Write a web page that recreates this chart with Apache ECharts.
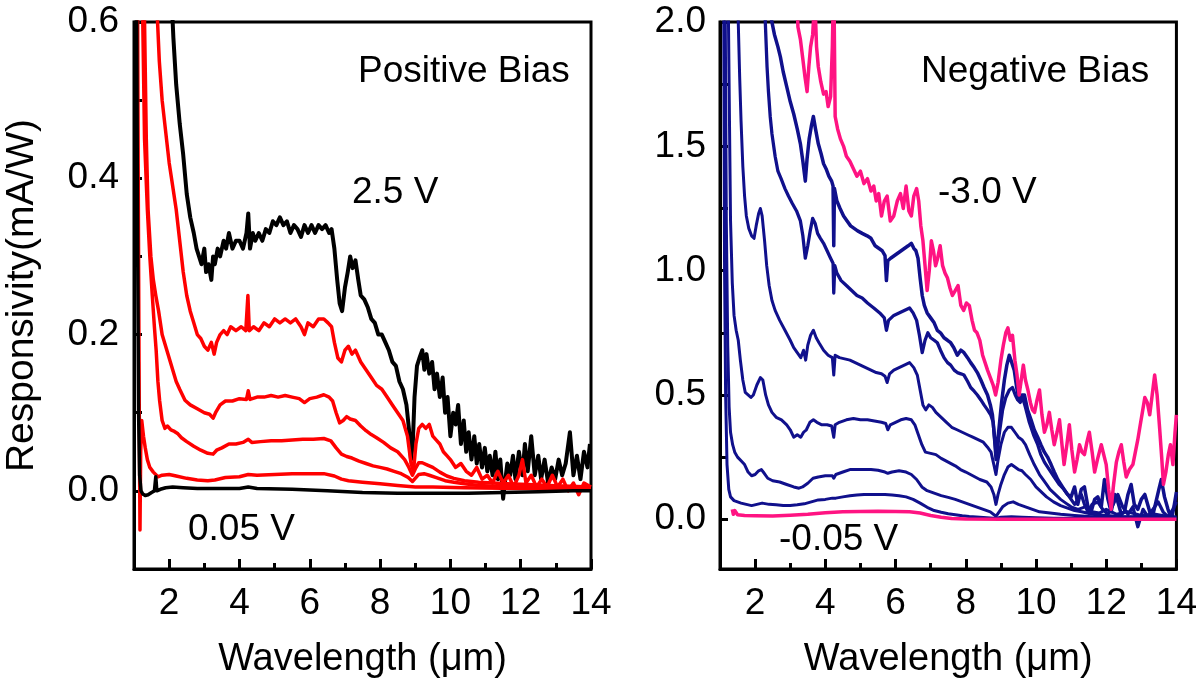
<!DOCTYPE html>
<html>
<head>
<meta charset="utf-8">
<script src="https://cdn.jsdelivr.net/npm/echarts@6.0.0/dist/echarts.min.js"></script>
<style>html,body{margin:0;padding:0;background:#fff;}#chart{width:1200px;height:687px;}</style>
</head>
<body>
<div id="chart"></div>
<script>
// ---------- tick values ----------
const xMajorTicks = [2, 4, 6, 8, 10, 12, 14];
const xMinorTicks = [3, 5, 7, 9, 11, 13];
const yLeftLabels = [0, 0.2, 0.4, 0.6];
const yLeftTicks = [0, 0.1, 0.2, 0.3, 0.4, 0.5, 0.6];
const yRightLabels = [0, 0.5, 1.0, 1.5, 2.0];
const yRightTicks = [0, 0.25, 0.5, 0.75, 1.0, 1.25, 1.5, 1.75, 2.0];

// ---------- left panel: positive bias ----------
const pos_2p5V = [[1.9,0.9],[2.05,0.65],[2.12,0.58],[2.2,0.52],[2.3,0.47],[2.4,0.43],[2.5,0.38],[2.6,0.35],[2.7,0.33],[2.78,0.31],[2.85,0.3],[2.92,0.29],[3.0,0.31],[3.05,0.28],[3.12,0.29],[3.2,0.27],[3.25,0.3],[3.3,0.29],[3.38,0.31],[3.45,0.3],[3.55,0.32],[3.62,0.31],[3.7,0.33],[3.8,0.31],[3.9,0.32],[4.0,0.32],[4.1,0.31],[4.2,0.33],[4.25,0.355],[4.3,0.31],[4.38,0.33],[4.45,0.32],[4.55,0.33],[4.65,0.32],[4.75,0.335],[4.85,0.33],[4.95,0.345],[5.05,0.34],[5.15,0.35],[5.25,0.34],[5.35,0.345],[5.45,0.33],[5.55,0.34],[5.65,0.335],[5.75,0.325],[5.85,0.34],[5.95,0.33],[6.05,0.34],[6.15,0.33],[6.25,0.34],[6.35,0.335],[6.45,0.34],[6.55,0.33],[6.62,0.335],[6.7,0.31],[6.78,0.27],[6.85,0.24],[6.92,0.23],[7.0,0.26],[7.08,0.28],[7.15,0.3],[7.22,0.285],[7.3,0.295],[7.38,0.27],[7.45,0.25],[7.55,0.245],[7.65,0.235],[7.75,0.22],[7.85,0.215],[7.95,0.2],[8.05,0.2],[8.15,0.19],[8.25,0.18],[8.35,0.165],[8.45,0.16],[8.55,0.14],[8.65,0.13],[8.75,0.11],[8.82,0.08],[8.88,0.04],[8.93,0.06],[8.98,0.12],[9.05,0.16],[9.12,0.17],[9.2,0.18],[9.26,0.155],[9.32,0.175],[9.4,0.15],[9.48,0.165],[9.55,0.13],[9.62,0.15],[9.7,0.12],[9.78,0.145],[9.85,0.1],[9.92,0.12],[10.0,0.07],[10.08,0.1],[10.15,0.085],[10.22,0.11],[10.3,0.06],[10.38,0.09],[10.45,0.05],[10.52,0.075],[10.6,0.04],[10.68,0.07],[10.75,0.035],[10.82,0.06],[10.9,0.03],[10.98,0.055],[11.05,0.025],[11.12,0.045],[11.2,0.02],[11.28,0.05],[11.35,0.015],[11.42,0.04],[11.5,-0.01],[11.55,0.01],[11.62,0.035],[11.7,0.02],[11.78,0.045],[11.85,0.015],[11.95,0.05],[12.05,0.02],[12.12,0.06],[12.2,0.025],[12.3,0.07],[12.4,0.02],[12.5,0.045],[12.58,0.015],[12.68,0.04],[12.78,0.01],[12.88,0.03],[12.98,0.015],[13.08,0.04],[13.18,0.02],[13.28,0.035],[13.4,0.075],[13.5,0.02],[13.6,0.045],[13.7,0.015],[13.8,0.05],[13.9,0.03],[13.97,0.06]];
const pos_red1 = [[1.58,0.9],[1.65,0.62],[1.72,0.55],[1.8,0.5],[1.9,0.46],[2.0,0.42],[2.1,0.39],[2.2,0.36],[2.3,0.32],[2.4,0.28],[2.5,0.25],[2.6,0.23],[2.7,0.215],[2.8,0.2],[2.9,0.195],[3.0,0.185],[3.1,0.18],[3.2,0.19],[3.28,0.175],[3.35,0.19],[3.45,0.2],[3.55,0.205],[3.65,0.2],[3.75,0.21],[3.9,0.205],[4.05,0.21],[4.18,0.205],[4.24,0.25],[4.28,0.205],[4.4,0.21],[4.55,0.205],[4.7,0.215],[4.85,0.21],[5.0,0.22],[5.15,0.215],[5.3,0.22],[5.45,0.215],[5.6,0.22],[5.75,0.21],[5.85,0.2],[5.95,0.215],[6.1,0.21],[6.25,0.22],[6.4,0.22],[6.52,0.215],[6.62,0.21],[6.7,0.19],[6.8,0.17],[6.9,0.165],[7.0,0.18],[7.1,0.185],[7.2,0.175],[7.3,0.18],[7.45,0.165],[7.6,0.155],[7.75,0.145],[7.9,0.135],[8.05,0.13],[8.2,0.12],[8.35,0.11],[8.5,0.1],[8.65,0.09],[8.78,0.07],[8.88,0.035],[8.95,0.025],[9.02,0.06],[9.1,0.08],[9.2,0.085],[9.3,0.08],[9.4,0.085],[9.5,0.07],[9.6,0.065],[9.7,0.06],[9.8,0.05],[9.9,0.045],[10.0,0.04],[10.15,0.03],[10.3,0.035],[10.45,0.025],[10.6,0.02],[10.75,0.03],[10.9,0.015],[11.05,0.02],[11.2,0.01],[11.35,0.025],[11.5,0.01],[11.65,0.02],[11.8,0.005],[11.95,0.02],[12.05,0.04],[12.15,0.01],[12.3,0.02],[12.45,0.005],[12.6,0.015],[12.75,0.005],[12.9,0.02],[13.05,0.005],[13.2,0.015],[13.35,0.0],[13.5,0.01],[13.65,-0.005],[13.8,0.01],[14.0,0.005]];
const pos_red2 = [[1.25,0.9],[1.3,0.6],[1.35,0.45],[1.4,0.36],[1.48,0.3],[1.55,0.27],[1.62,0.25],[1.7,0.23],[1.8,0.2],[1.9,0.185],[2.0,0.17],[2.1,0.155],[2.2,0.14],[2.3,0.13],[2.45,0.116],[2.6,0.11],[2.8,0.105],[3.0,0.1],[3.15,0.098],[3.25,0.093],[3.32,0.1],[3.45,0.11],[3.6,0.115],[3.8,0.115],[4.0,0.118],[4.2,0.117],[4.25,0.128],[4.3,0.117],[4.5,0.12],[4.7,0.12],[4.9,0.122],[5.1,0.12],[5.3,0.122],[5.5,0.12],[5.7,0.118],[5.85,0.113],[6.0,0.118],[6.2,0.12],[6.4,0.123],[6.55,0.12],[6.65,0.115],[6.75,0.1],[6.85,0.087],[6.95,0.09],[7.05,0.095],[7.15,0.092],[7.3,0.09],[7.45,0.083],[7.6,0.077],[7.75,0.072],[7.9,0.068],[8.1,0.062],[8.3,0.055],[8.5,0.05],[8.7,0.04],[8.82,0.03],[8.92,0.02],[9.0,0.028],[9.1,0.036],[9.2,0.036],[9.35,0.033],[9.5,0.03],[9.7,0.024],[9.9,0.019],[10.1,0.016],[10.4,0.013],[10.8,0.011],[11.2,0.01],[11.6,0.009],[12.2,0.008],[12.8,0.007],[13.4,0.006],[14.0,0.005]];
const pos_red3 = [[1.2,0.9],[1.25,0.6],[1.3,0.45],[1.38,0.36],[1.45,0.3],[1.52,0.25],[1.58,0.21],[1.63,0.18],[1.68,0.14],[1.73,0.115],[1.8,0.09],[1.88,0.08],[1.95,0.083],[2.05,0.078],[2.15,0.076],[2.25,0.073],[2.35,0.068],[2.5,0.063],[2.7,0.057],[2.9,0.052],[3.1,0.048],[3.25,0.047],[3.35,0.052],[3.5,0.055],[3.7,0.06],[3.9,0.06],[4.1,0.062],[4.25,0.066],[4.35,0.062],[4.6,0.063],[4.9,0.064],[5.2,0.064],[5.5,0.065],[5.8,0.066],[6.1,0.066],[6.4,0.067],[6.6,0.064],[6.75,0.055],[6.9,0.047],[7.05,0.044],[7.2,0.042],[7.4,0.038],[7.6,0.035],[7.8,0.032],[8.0,0.03],[8.2,0.028],[8.4,0.025],[8.6,0.022],[8.8,0.017],[8.92,0.012],[9.0,0.016],[9.1,0.021],[9.25,0.022],[9.4,0.02],[9.6,0.017],[9.85,0.013],[10.1,0.011],[10.4,0.009],[10.8,0.007],[11.3,0.006],[12.0,0.005],[13.0,0.004],[14.0,0.004]];
const pos_red4 = [[1.08,0.9],[1.12,0.4],[1.15,0.1],[1.17,-0.05],[1.19,0.05],[1.22,0.09],[1.27,0.07],[1.32,0.055],[1.38,0.04],[1.45,0.03],[1.55,0.024],[1.68,0.018],[1.8,0.02],[2.0,0.021],[2.2,0.019],[2.5,0.016],[2.8,0.014],[3.1,0.013],[3.3,0.014],[3.6,0.017],[4.0,0.018],[4.25,0.021],[4.5,0.02],[5.0,0.021],[5.5,0.022],[6.0,0.022],[6.4,0.022],[6.7,0.019],[6.9,0.015],[7.1,0.013],[7.5,0.011],[8.0,0.009],[8.5,0.007],[9.0,0.005],[9.5,0.005],[10.4,0.004],[12.0,0.003],[14.0,0.003]];
const pos_0p05V = [[1.05,0.9],[1.1,0.35],[1.13,0.1],[1.16,0.02],[1.2,0.0],[1.25,-0.004],[1.32,-0.006],[1.4,-0.005],[1.5,-0.002],[1.58,0.0],[1.62,0.018],[1.65,0.0],[1.75,0.002],[1.9,0.004],[2.1,0.005],[2.4,0.004],[2.8,0.003],[3.3,0.003],[4.0,0.003],[4.25,0.005],[4.5,0.003],[5.5,0.002],[6.5,0.0],[7.5,-0.002],[8.5,-0.003],[9.5,-0.003],[10.5,-0.003],[11.5,-0.002],[12.5,-0.001],[13.5,0.0],[14.0,0.0]];

// ---------- right panel: negative bias ----------
const neg_3p0V = [[3.15,2.3],[3.22,1.98],[3.29,1.93],[3.36,1.85],[3.42,1.78],[3.48,1.72],[3.53,1.82],[3.58,1.9],[3.64,1.95],[3.7,2.1],[3.75,1.9],[3.8,1.82],[3.87,1.76],[3.95,1.71],[4.02,1.72],[4.08,1.66],[4.15,1.7],[4.2,1.9],[4.24,2.2],[4.28,1.62],[4.35,1.57],[4.43,1.53],[4.52,1.5],[4.6,1.46],[4.7,1.44],[4.8,1.41],[4.9,1.38],[5.0,1.4],[5.1,1.35],[5.2,1.37],[5.3,1.32],[5.38,1.34],[5.45,1.28],[5.52,1.31],[5.6,1.22],[5.68,1.28],[5.76,1.3],[5.85,1.2],[5.95,1.22],[6.05,1.28],[6.14,1.31],[6.22,1.25],[6.3,1.34],[6.38,1.24],[6.45,1.22],[6.52,1.3],[6.6,1.33],[6.66,1.28],[6.72,1.18],[6.78,1.12],[6.84,1.02],[6.9,0.92],[6.96,1.0],[7.02,1.12],[7.08,1.08],[7.14,1.02],[7.2,1.05],[7.27,1.1],[7.34,1.02],[7.41,0.99],[7.48,0.97],[7.55,0.93],[7.62,0.9],[7.7,0.92],[7.78,0.94],[7.86,0.86],[7.94,0.84],[8.02,0.87],[8.1,0.86],[8.18,0.8],[8.25,0.76],[8.32,0.75],[8.4,0.72],[8.48,0.66],[8.55,0.63],[8.62,0.6],[8.7,0.57],[8.78,0.54],[8.85,0.5],[8.92,0.55],[9.0,0.64],[9.07,0.7],[9.14,0.75],[9.2,0.77],[9.27,0.72],[9.33,0.74],[9.4,0.64],[9.46,0.58],[9.52,0.5],[9.58,0.56],[9.64,0.62],[9.7,0.56],[9.77,0.52],[9.84,0.47],[9.9,0.44],[9.96,0.43],[10.03,0.48],[10.1,0.52],[10.17,0.42],[10.24,0.35],[10.31,0.38],[10.38,0.43],[10.45,0.36],[10.52,0.3],[10.6,0.35],[10.67,0.4],[10.74,0.3],[10.8,0.22],[10.88,0.3],[10.95,0.38],[11.02,0.28],[11.1,0.19],[11.17,0.24],[11.24,0.3],[11.31,0.27],[11.38,0.26],[11.45,0.31],[11.52,0.35],[11.6,0.27],[11.67,0.19],[11.75,0.24],[11.86,0.3],[11.93,0.26],[12.0,0.22],[12.07,0.12],[12.14,0.04],[12.21,0.14],[12.29,0.23],[12.36,0.27],[12.43,0.3],[12.5,0.23],[12.57,0.17],[12.66,0.2],[12.76,0.22],[12.83,0.27],[12.9,0.32],[12.97,0.38],[13.03,0.43],[13.1,0.49],[13.17,0.47],[13.24,0.42],[13.31,0.5],[13.38,0.58],[13.45,0.5],[13.52,0.37],[13.58,0.25],[13.63,0.14],[13.7,0.19],[13.77,0.26],[13.83,0.3],[13.9,0.22],[13.96,0.35],[14.0,0.42]];
const neg_blue1 = [[2.3,2.3],[2.45,2.02],[2.55,1.95],[2.65,1.9],[2.72,1.86],[2.8,1.8],[2.9,1.74],[3.0,1.68],[3.1,1.63],[3.2,1.57],[3.29,1.51],[3.36,1.44],[3.43,1.36],[3.48,1.45],[3.54,1.53],[3.6,1.58],[3.66,1.62],[3.72,1.57],[3.8,1.51],[3.88,1.47],[3.95,1.43],[4.02,1.41],[4.1,1.38],[4.18,1.36],[4.22,1.34],[4.24,1.1],[4.26,1.33],[4.33,1.28],[4.42,1.25],[4.52,1.22],[4.62,1.2],[4.72,1.18],[4.82,1.17],[4.92,1.16],[5.05,1.15],[5.19,1.14],[5.3,1.13],[5.42,1.1],[5.52,1.09],[5.62,1.08],[5.7,1.06],[5.74,0.96],[5.78,1.04],[5.86,1.05],[5.96,1.06],[6.06,1.07],[6.16,1.08],[6.26,1.09],[6.36,1.1],[6.45,1.11],[6.52,1.09],[6.58,1.08],[6.64,1.05],[6.7,0.97],[6.76,0.9],[6.82,0.86],[6.9,0.83],[7.0,0.81],[7.1,0.79],[7.19,0.76],[7.28,0.75],[7.38,0.73],[7.48,0.72],[7.57,0.71],[7.66,0.69],[7.76,0.66],[7.86,0.68],[7.95,0.67],[8.05,0.65],[8.14,0.63],[8.24,0.61],[8.33,0.59],[8.43,0.56],[8.52,0.53],[8.62,0.5],[8.7,0.46],[8.76,0.42],[8.82,0.33],[8.86,0.27],[8.9,0.3],[8.95,0.37],[9.02,0.47],[9.1,0.56],[9.17,0.62],[9.24,0.66],[9.31,0.63],[9.38,0.6],[9.45,0.53],[9.52,0.48],[9.6,0.5],[9.67,0.5],[9.76,0.44],[9.86,0.4],[9.95,0.36],[10.05,0.33],[10.14,0.3],[10.24,0.27],[10.33,0.25],[10.43,0.22],[10.52,0.19],[10.62,0.16],[10.71,0.14],[10.8,0.12],[10.9,0.1],[11.0,0.09],[11.1,0.13],[11.19,0.06],[11.29,0.12],[11.38,0.13],[11.48,0.05],[11.57,0.03],[11.67,0.08],[11.76,0.09],[11.86,0.05],[11.95,0.16],[12.05,0.08],[12.14,0.03],[12.24,0.1],[12.33,0.07],[12.43,0.02],[12.52,0.03],[12.62,0.1],[12.71,0.14],[12.8,0.06],[12.9,0.04],[13.0,0.08],[13.1,0.1],[13.2,0.05],[13.3,0.0],[13.4,0.06],[13.5,0.12],[13.57,0.16],[13.66,0.09],[13.76,0.04],[13.86,0.0],[13.93,0.05],[14.0,0.11]];
const neg_blue2 = [[2.22,2.3],[2.29,2.0],[2.34,1.82],[2.38,1.72],[2.43,1.62],[2.48,1.55],[2.57,1.46],[2.65,1.4],[2.74,1.37],[2.85,1.33],[2.95,1.3],[3.06,1.27],[3.18,1.24],[3.29,1.2],[3.36,1.14],[3.43,1.05],[3.5,1.1],[3.57,1.16],[3.64,1.21],[3.71,1.19],[3.78,1.15],[3.86,1.13],[3.95,1.11],[4.05,1.08],[4.15,1.05],[4.22,1.03],[4.24,0.91],[4.27,1.02],[4.33,0.99],[4.45,0.96],[4.6,0.94],[4.75,0.92],[4.9,0.9],[5.05,0.89],[5.2,0.87],[5.38,0.85],[5.55,0.83],[5.68,0.81],[5.74,0.76],[5.8,0.8],[5.95,0.82],[6.1,0.83],[6.25,0.84],[6.4,0.85],[6.5,0.83],[6.6,0.8],[6.68,0.74],[6.76,0.67],[6.84,0.72],[6.92,0.75],[7.0,0.73],[7.1,0.72],[7.19,0.71],[7.28,0.68],[7.38,0.65],[7.48,0.63],[7.57,0.62],[7.67,0.6],[7.76,0.59],[7.86,0.585],[7.95,0.58],[8.05,0.555],[8.14,0.53],[8.24,0.515],[8.33,0.5],[8.43,0.48],[8.52,0.46],[8.62,0.44],[8.71,0.42],[8.78,0.39],[8.83,0.3],[8.86,0.24],[8.9,0.28],[8.95,0.34],[9.05,0.44],[9.14,0.49],[9.24,0.52],[9.33,0.53],[9.41,0.5],[9.48,0.48],[9.55,0.47],[9.62,0.49],[9.7,0.45],[9.81,0.39],[9.93,0.34],[10.05,0.3],[10.14,0.26],[10.24,0.23],[10.38,0.2],[10.52,0.17],[10.66,0.14],[10.8,0.12],[10.95,0.09],[11.1,0.06],[11.2,0.08],[11.29,0.1],[11.38,0.06],[11.48,0.03],[11.6,0.06],[11.76,0.07],[11.9,0.04],[12.05,0.02],[12.2,0.06],[12.33,0.1],[12.47,0.05],[12.62,0.02],[12.76,0.05],[12.9,-0.03],[13.05,0.04],[13.19,0.01],[13.33,0.04],[13.48,0.07],[13.62,0.03],[13.76,0.01],[13.9,0.04],[14.0,0.07]];
const neg_blue3 = [[1.46,2.3],[1.52,2.0],[1.56,1.78],[1.6,1.6],[1.65,1.42],[1.7,1.3],[1.75,1.22],[1.82,1.17],[1.9,1.14],[1.97,1.13],[2.03,1.18],[2.1,1.23],[2.15,1.25],[2.2,1.22],[2.27,1.12],[2.33,1.02],[2.4,0.94],[2.48,0.88],[2.57,0.84],[2.7,0.8],[2.85,0.76],[3.0,0.72],[3.1,0.69],[3.2,0.67],[3.3,0.65],[3.38,0.68],[3.44,0.64],[3.5,0.7],[3.58,0.74],[3.66,0.76],[3.74,0.73],[3.82,0.71],[3.95,0.68],[4.08,0.66],[4.2,0.65],[4.24,0.58],[4.28,0.66],[4.4,0.65],[4.55,0.645],[4.7,0.64],[4.85,0.63],[5.0,0.62],[5.15,0.61],[5.3,0.6],[5.45,0.59],[5.6,0.585],[5.7,0.575],[5.76,0.55],[5.83,0.585],[5.95,0.6],[6.1,0.61],[6.25,0.62],[6.4,0.63],[6.52,0.61],[6.62,0.58],[6.7,0.52],[6.78,0.46],[6.86,0.44],[6.95,0.46],[7.05,0.45],[7.15,0.43],[7.3,0.41],[7.45,0.39],[7.6,0.37],[7.75,0.36],[7.9,0.35],[8.05,0.34],[8.2,0.33],[8.35,0.32],[8.5,0.31],[8.62,0.29],[8.72,0.27],[8.8,0.22],[8.86,0.18],[8.92,0.24],[9.0,0.3],[9.1,0.35],[9.2,0.37],[9.3,0.37],[9.4,0.35],[9.5,0.33],[9.6,0.32],[9.7,0.3],[9.82,0.26],[9.95,0.22],[10.1,0.18],[10.25,0.15],[10.4,0.12],[10.55,0.1],[10.7,0.08],[10.85,0.065],[11.0,0.05],[11.2,0.04],[11.4,0.05],[11.6,0.03],[11.8,0.025],[12.0,0.04],[12.3,0.02],[12.6,0.03],[13.0,0.015],[13.4,0.02],[13.8,0.01],[14.0,0.01]];
const neg_blue4 = [[1.22,2.3],[1.27,1.6],[1.3,1.2],[1.35,0.95],[1.4,0.82],[1.46,0.76],[1.52,0.72],[1.58,0.64],[1.65,0.56],[1.72,0.51],[1.8,0.5],[1.88,0.49],[1.95,0.5],[2.05,0.54],[2.15,0.57],[2.22,0.56],[2.3,0.5],[2.38,0.46],[2.48,0.43],[2.6,0.41],[2.75,0.4],[2.9,0.38],[3.0,0.36],[3.1,0.33],[3.2,0.34],[3.3,0.33],[3.38,0.35],[3.46,0.36],[3.56,0.39],[3.66,0.4],[3.76,0.39],[3.9,0.38],[4.05,0.38],[4.18,0.375],[4.24,0.33],[4.28,0.38],[4.4,0.39],[4.6,0.4],[4.8,0.405],[5.0,0.4],[5.2,0.4],[5.4,0.395],[5.6,0.39],[5.72,0.385],[5.78,0.36],[5.85,0.38],[6.0,0.39],[6.15,0.4],[6.3,0.405],[6.45,0.4],[6.55,0.38],[6.65,0.34],[6.75,0.3],[6.85,0.27],[7.0,0.265],[7.15,0.26],[7.3,0.245],[7.5,0.23],[7.7,0.215],[7.85,0.2],[8.0,0.19],[8.2,0.175],[8.4,0.16],[8.6,0.15],[8.72,0.13],[8.8,0.1],[8.86,0.06],[8.92,0.1],[9.0,0.14],[9.1,0.18],[9.2,0.21],[9.3,0.22],[9.4,0.21],[9.5,0.2],[9.6,0.195],[9.7,0.18],[9.85,0.16],[10.0,0.13],[10.15,0.11],[10.3,0.09],[10.5,0.07],[10.7,0.055],[10.9,0.045],[11.1,0.035],[11.3,0.03],[11.6,0.02],[12.0,0.015],[12.5,0.01],[13.0,0.01],[13.5,0.008],[14.0,0.007]];
const neg_blue5 = [[1.14,2.3],[1.18,1.2],[1.22,0.7],[1.26,0.45],[1.3,0.35],[1.36,0.3],[1.42,0.27],[1.5,0.25],[1.6,0.235],[1.7,0.22],[1.8,0.19],[1.9,0.175],[2.0,0.18],[2.1,0.195],[2.18,0.2],[2.26,0.185],[2.36,0.165],[2.5,0.155],[2.7,0.15],[2.9,0.14],[3.1,0.13],[3.25,0.125],[3.35,0.13],[3.5,0.145],[3.65,0.165],[3.8,0.17],[4.0,0.175],[4.2,0.175],[4.24,0.165],[4.3,0.18],[4.5,0.19],[4.7,0.2],[4.9,0.2],[5.1,0.2],[5.3,0.2],[5.5,0.197],[5.7,0.19],[5.78,0.185],[5.9,0.19],[6.1,0.195],[6.3,0.19],[6.45,0.18],[6.6,0.16],[6.75,0.13],[6.9,0.115],[7.1,0.105],[7.3,0.095],[7.5,0.088],[7.7,0.08],[7.9,0.07],[8.1,0.06],[8.3,0.05],[8.5,0.04],[8.7,0.03],[8.86,0.012],[8.95,0.03],[9.05,0.05],[9.2,0.065],[9.35,0.07],[9.5,0.06],[9.7,0.05],[9.9,0.04],[10.1,0.03],[10.4,0.025],[10.7,0.02],[11.1,0.015],[11.6,0.01],[12.2,0.01],[13.0,0.008],[14.0,0.005]];
const neg_blue6 = [[1.1,2.3],[1.13,1.0],[1.16,0.5],[1.2,0.22],[1.25,0.12],[1.3,0.09],[1.4,0.075],[1.5,0.07],[1.6,0.065],[1.75,0.06],[1.9,0.055],[2.05,0.06],[2.2,0.065],[2.4,0.06],[2.6,0.058],[2.8,0.055],[3.0,0.055],[3.2,0.058],[3.4,0.062],[3.6,0.07],[3.8,0.078],[4.0,0.08],[4.2,0.085],[4.24,0.09],[4.3,0.085],[4.5,0.09],[4.7,0.095],[4.9,0.098],[5.1,0.1],[5.3,0.1],[5.5,0.1],[5.7,0.1],[5.9,0.098],[6.1,0.095],[6.3,0.09],[6.5,0.08],[6.7,0.065],[6.9,0.048],[7.1,0.035],[7.3,0.028],[7.5,0.022],[7.7,0.018],[7.9,0.014],[8.1,0.011],[8.4,0.008],[8.7,0.005],[8.86,0.003],[9.0,0.008],[9.3,0.01],[9.6,0.008],[10.0,0.006],[10.5,0.004],[11.5,0.003],[13.0,0.002],[14.0,0.002]];
const neg_0p05V = [[1.35,0.04],[1.38,0.02],[1.42,0.035],[1.5,0.018],[1.7,0.015],[2.0,0.014],[2.5,0.013],[3.0,0.016],[3.5,0.02],[4.0,0.026],[4.5,0.03],[5.0,0.031],[5.5,0.032],[6.0,0.031],[6.4,0.03],[6.7,0.025],[7.0,0.015],[7.3,0.008],[7.6,0.003],[8.0,0.001],[9.0,0.0],[10.0,0.0],[11.0,0.0],[12.0,0.0],[13.0,0.0],[14.0,0.0]];

// ---------- styling ----------
const FONT = "'Liberation Sans', Arial, Helvetica, sans-serif";
const RED = '#ff0000', BLACK = '#000000', BLUE = '#10108c', PINK = '#ff1382';

function xAxes(grid) {
  return [
    { gridIndex: grid, type: 'value', min: 1, max: 14, position: 'bottom',
      axisLine: { show: true, onZero: false, lineStyle: { color: '#000', width: 3 } },
      axisTick: { show: true, inside: true, length: 10, customValues: xMajorTicks, lineStyle: { color: '#000', width: 3 } },
      axisLabel: { customValues: xMajorTicks, fontSize: 37, fontFamily: FONT, color: '#000', margin: 16 },
      splitLine: { show: false },
      name: 'Wavelength (\u03bcm)', nameLocation: 'middle', nameGap: 72,
      nameTextStyle: { fontSize: 38, fontFamily: FONT, color: '#000' } },
    { gridIndex: grid, type: 'value', min: 1, max: 14, position: 'bottom',
      axisLine: { show: false, onZero: false },
      axisTick: { show: true, inside: true, length: 6, customValues: xMinorTicks, lineStyle: { color: '#000', width: 3 } },
      axisLabel: { show: false }, splitLine: { show: false } }
  ];
}

const option = {
  backgroundColor: '#ffffff',
  animation: false,
  grid: [
    { left: 134, right: 609, top: 22, bottom: 118, show: true, borderColor: '#000', borderWidth: 3, backgroundColor: 'transparent' },
    { left: 720, right: 23, top: 22, bottom: 118, show: true, borderColor: '#000', borderWidth: 3, backgroundColor: 'transparent' }
  ],
  xAxis: [...xAxes(0), ...xAxes(1)],
  yAxis: [
    { gridIndex: 0, type: 'value', min: -0.1, max: 0.6, position: 'left',
      axisLine: { show: true, onZero: false, lineStyle: { color: '#000', width: 3 } },
      axisTick: { show: true, inside: true, length: 8, customValues: yLeftTicks, lineStyle: { color: '#000', width: 3 } },
      axisLabel: { customValues: yLeftLabels, formatter: v => v.toFixed(1), fontSize: 37, fontFamily: FONT, color: '#000', margin: 15 },
      splitLine: { show: false },
      name: 'Responsivity(mA/W)', nameLocation: 'middle', nameRotate: 90, nameGap: 92,
      nameTextStyle: { fontSize: 39, fontFamily: FONT, color: '#000' } },
    { gridIndex: 1, type: 'value', min: -0.2, max: 2.0, position: 'left',
      axisLine: { show: true, onZero: false, lineStyle: { color: '#000', width: 3 } },
      axisTick: { show: true, inside: true, length: 8, customValues: yRightTicks, lineStyle: { color: '#000', width: 3 } },
      axisLabel: { customValues: yRightLabels, formatter: v => v.toFixed(1), fontSize: 37, fontFamily: FONT, color: '#000', margin: 14 },
      splitLine: { show: false } }
  ],
  series: [
    { data: pos_2p5V, color: BLACK, width: 4, xi: 0, yi: 0 },
    { data: pos_red1, color: RED, width: 3.5, xi: 0, yi: 0 },
    { data: pos_red2, color: RED, width: 3.5, xi: 0, yi: 0 },
    { data: pos_red3, color: RED, width: 3.5, xi: 0, yi: 0 },
    { data: pos_red4, color: RED, width: 3.5, xi: 0, yi: 0 },
    { data: pos_0p05V, color: BLACK, width: 3.5, xi: 0, yi: 0 },
    { data: neg_blue1, color: BLUE, width: 3.5, xi: 2, yi: 1 },
    { data: neg_blue2, color: BLUE, width: 3.3, xi: 2, yi: 1 },
    { data: neg_blue3, color: BLUE, width: 3, xi: 2, yi: 1 },
    { data: neg_blue4, color: BLUE, width: 3, xi: 2, yi: 1 },
    { data: neg_blue5, color: BLUE, width: 3, xi: 2, yi: 1 },
    { data: neg_blue6, color: BLUE, width: 3, xi: 2, yi: 1 },
    { data: neg_3p0V, color: PINK, width: 3.5, xi: 2, yi: 1 },
    { data: neg_0p05V, color: PINK, width: 3.5, xi: 2, yi: 1 }
  ].map(s => ({
    type: 'line', data: s.data, xAxisIndex: s.xi, yAxisIndex: s.yi,
    showSymbol: false, symbol: 'none', clip: true, silent: true,
    lineStyle: { color: s.color, width: s.width, join: 'round' }, itemStyle: { color: s.color }
  })),
  graphic: [
    { type: 'text', x: 358, y: 72, style: { text: 'Positive Bias', fontSize: 37, fontFamily: FONT, fill: '#000', align: 'left', verticalAlign: 'middle' } },
    { type: 'text', x: 352, y: 193, style: { text: '2.5 V', fontSize: 37, fontFamily: FONT, fill: '#000', align: 'left', verticalAlign: 'middle' } },
    { type: 'text', x: 188, y: 530, style: { text: '0.05 V', fontSize: 37, fontFamily: FONT, fill: '#000', align: 'left', verticalAlign: 'middle' } },
    { type: 'text', x: 921, y: 72, style: { text: 'Negative Bias', fontSize: 37, fontFamily: FONT, fill: '#000', align: 'left', verticalAlign: 'middle' } },
    { type: 'text', x: 938, y: 193, style: { text: '-3.0 V', fontSize: 37, fontFamily: FONT, fill: '#000', align: 'left', verticalAlign: 'middle' } },
    { type: 'text', x: 779, y: 540, style: { text: '-0.05 V', fontSize: 37, fontFamily: FONT, fill: '#000', align: 'left', verticalAlign: 'middle' } }
  ]
};

const chart = echarts.init(document.getElementById('chart'), null, { renderer: 'canvas' });
chart.setOption(option);
</script>
</body>
</html>
